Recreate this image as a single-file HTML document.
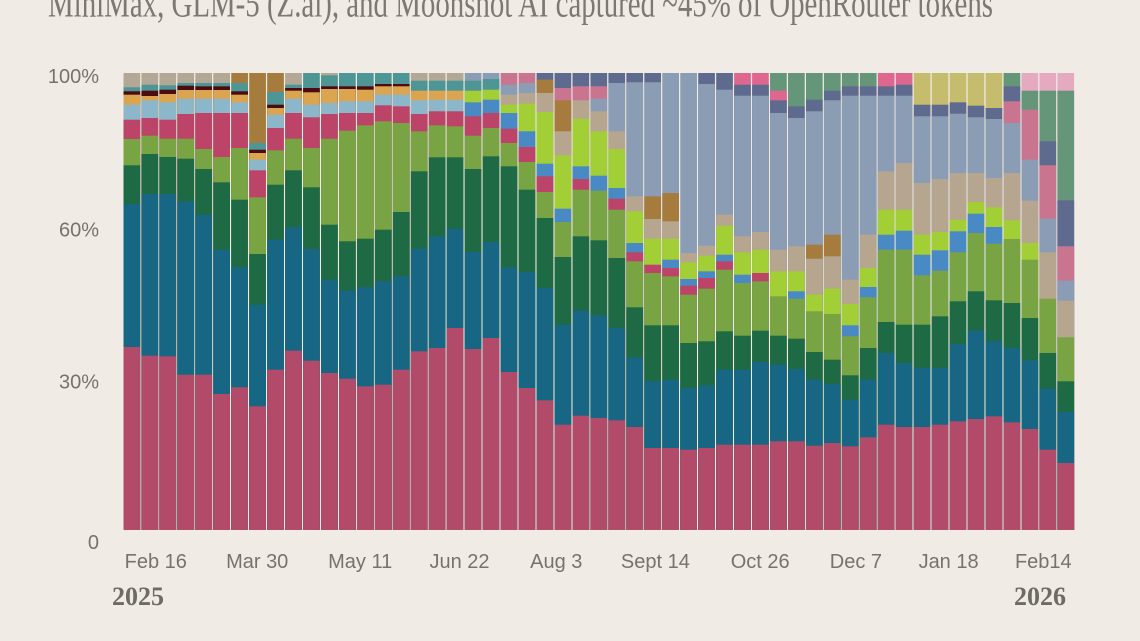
<!DOCTYPE html>
<html><head><meta charset="utf-8"><style>
html,body{margin:0;padding:0;background:#F0ECE5;}
svg{display:block;}
.A{fill:#B24A69}.B{fill:#176683}.C{fill:#1E6A45}.D{fill:#78A443}.E{fill:#BB4468}
.F{fill:#8CB6C9}.G{fill:#DBA54F}.H{fill:#4B0B10}.I{fill:#4E9596}.J{fill:#B3A796}
.K{fill:#A57C3E}.L{fill:#A2CF36}.M{fill:#4A8AC4}.N{fill:#8B9DB5}.O{fill:#5F6B8E}
.P{fill:#B6A58F}.Q{fill:#C6BC6D}.R{fill:#66967A}.S{fill:#DE6790}.T{fill:#C97590}.U{fill:#E5A9C0}
.ax{font-family:"Liberation Sans",Arial,sans-serif;font-size:20px;fill:#77726C;}
.yr{font-family:"Liberation Serif",serif;font-size:26px;font-weight:bold;fill:#6E6A65;}
</style></head><body>
<svg width="1140" height="641" viewBox="0 0 1140 641" xmlns="http://www.w3.org/2000/svg">
<rect width="1140" height="641" fill="#F0ECE5"/>
<text x="48" y="16.5" font-family="Liberation Serif, serif" font-size="40" fill="#7D7872" textLength="945" lengthAdjust="spacingAndGlyphs">MiniMax, GLM-5 (Z.ai), and Moonshot AI captured ~45% of OpenRouter tokens</text>

<text class="ax" x="99" y="83" text-anchor="end">100%</text>
<text class="ax" x="99" y="236.7" text-anchor="end">60%</text>
<text class="ax" x="99" y="388.5" text-anchor="end">30%</text>
<text class="ax" x="99" y="549" text-anchor="end">0</text>

<g transform="translate(123.5,0)"><rect width="16.7" class="J" y="73" height="457"/><rect width="16.7" class="I" y="87.3" height="442.7"/><rect width="16.7" class="H" y="91.3" height="438.7"/><rect width="16.7" class="G" y="94.7" height="435.3"/><rect width="16.7" class="F" y="104.7" height="425.3"/><rect width="16.7" class="E" y="119.7" height="410.3"/><rect width="16.7" class="D" y="139" height="391"/><rect width="16.7" class="C" y="165.3" height="364.7"/><rect width="16.7" class="B" y="204" height="326"/><rect width="16.7" class="A" y="347" height="183"/></g>
<g transform="translate(141.46,0)"><rect width="16.7" class="J" y="73" height="457"/><rect width="16.7" class="I" y="84.7" height="445.3"/><rect width="16.7" class="H" y="90.7" height="439.3"/><rect width="16.7" class="G" y="96" height="434"/><rect width="16.7" class="F" y="100.3" height="429.7"/><rect width="16.7" class="E" y="118" height="412"/><rect width="16.7" class="D" y="135.7" height="394.3"/><rect width="16.7" class="C" y="154" height="376"/><rect width="16.7" class="B" y="194" height="336"/><rect width="16.7" class="A" y="355.7" height="174.3"/></g>
<g transform="translate(159.42,0)"><rect width="16.7" class="J" y="73" height="457"/><rect width="16.7" class="I" y="85.3" height="444.7"/><rect width="16.7" class="H" y="89.7" height="440.3"/><rect width="16.7" class="G" y="94" height="436"/><rect width="16.7" class="F" y="102.3" height="427.7"/><rect width="16.7" class="E" y="119.7" height="410.3"/><rect width="16.7" class="D" y="138.7" height="391.3"/><rect width="16.7" class="C" y="157" height="373"/><rect width="16.7" class="B" y="194" height="336"/><rect width="16.7" class="A" y="356.3" height="173.7"/></g>
<g transform="translate(177.38,0)"><rect width="16.7" class="J" y="73" height="457"/><rect width="16.7" class="I" y="83" height="447"/><rect width="16.7" class="H" y="85.7" height="444.3"/><rect width="16.7" class="G" y="90" height="440"/><rect width="16.7" class="F" y="98.7" height="431.3"/><rect width="16.7" class="E" y="114" height="416"/><rect width="16.7" class="D" y="138.7" height="391.3"/><rect width="16.7" class="C" y="158.7" height="371.3"/><rect width="16.7" class="B" y="201.3" height="328.7"/><rect width="16.7" class="A" y="374.7" height="155.3"/></g>
<g transform="translate(195.34,0)"><rect width="16.7" class="J" y="73" height="457"/><rect width="16.7" class="I" y="83" height="447"/><rect width="16.7" class="H" y="86.3" height="443.7"/><rect width="16.7" class="G" y="90" height="440"/><rect width="16.7" class="F" y="98.7" height="431.3"/><rect width="16.7" class="E" y="113" height="417"/><rect width="16.7" class="D" y="149" height="381"/><rect width="16.7" class="C" y="169" height="361"/><rect width="16.7" class="B" y="214.7" height="315.3"/><rect width="16.7" class="A" y="374.7" height="155.3"/></g>
<g transform="translate(213.3,0)"><rect width="16.7" class="J" y="73" height="457"/><rect width="16.7" class="I" y="83" height="447"/><rect width="16.7" class="H" y="86.3" height="443.7"/><rect width="16.7" class="G" y="90" height="440"/><rect width="16.7" class="F" y="98.7" height="431.3"/><rect width="16.7" class="E" y="113" height="417"/><rect width="16.7" class="D" y="157" height="373"/><rect width="16.7" class="C" y="182.3" height="347.7"/><rect width="16.7" class="B" y="249.7" height="280.3"/><rect width="16.7" class="A" y="394" height="136"/></g>
<g transform="translate(231.26,0)"><rect width="16.7" class="K" y="73" height="457"/><rect width="16.7" class="I" y="83" height="447"/><rect width="16.7" class="H" y="91.3" height="438.7"/><rect width="16.7" class="G" y="94.7" height="435.3"/><rect width="16.7" class="F" y="102.3" height="427.7"/><rect width="16.7" class="E" y="113" height="417"/><rect width="16.7" class="D" y="148" height="382"/><rect width="16.7" class="C" y="199.7" height="330.3"/><rect width="16.7" class="B" y="267.3" height="262.7"/><rect width="16.7" class="A" y="387.3" height="142.7"/></g>
<g transform="translate(249.22,0)"><rect width="16.7" class="K" y="73" height="457"/><rect width="16.7" class="I" y="143" height="387"/><rect width="16.7" class="H" y="149.7" height="380.3"/><rect width="16.7" class="G" y="153" height="377"/><rect width="16.7" class="F" y="159.7" height="370.3"/><rect width="16.7" class="E" y="170.3" height="359.7"/><rect width="16.7" class="D" y="197.3" height="332.7"/><rect width="16.7" class="C" y="254" height="276"/><rect width="16.7" class="B" y="304.7" height="225.3"/><rect width="16.7" class="A" y="406.3" height="123.7"/></g>
<g transform="translate(267.18,0)"><rect width="16.7" class="K" y="73" height="457"/><rect width="16.7" class="I" y="92" height="438"/><rect width="16.7" class="H" y="104.7" height="425.3"/><rect width="16.7" class="G" y="108" height="422"/><rect width="16.7" class="F" y="114.7" height="415.3"/><rect width="16.7" class="E" y="128" height="402"/><rect width="16.7" class="D" y="150.3" height="379.7"/><rect width="16.7" class="C" y="184.7" height="345.3"/><rect width="16.7" class="B" y="239.7" height="290.3"/><rect width="16.7" class="A" y="369.7" height="160.3"/></g>
<g transform="translate(285.14,0)"><rect width="16.7" class="J" y="73" height="457"/><rect width="16.7" class="I" y="84.7" height="445.3"/><rect width="16.7" class="H" y="88" height="442"/><rect width="16.7" class="G" y="90.7" height="439.3"/><rect width="16.7" class="F" y="98.7" height="431.3"/><rect width="16.7" class="E" y="113" height="417"/><rect width="16.7" class="D" y="138.7" height="391.3"/><rect width="16.7" class="C" y="170.3" height="359.7"/><rect width="16.7" class="B" y="227.3" height="302.7"/><rect width="16.7" class="A" y="350.7" height="179.3"/></g>
<g transform="translate(303.1,0)"><rect width="16.7" class="I" y="73" height="457"/><rect width="16.7" class="H" y="88" height="442"/><rect width="16.7" class="G" y="92.3" height="437.7"/><rect width="16.7" class="F" y="104.7" height="425.3"/><rect width="16.7" class="E" y="117.3" height="412.7"/><rect width="16.7" class="D" y="148" height="382"/><rect width="16.7" class="C" y="187.3" height="342.7"/><rect width="16.7" class="B" y="249" height="281"/><rect width="16.7" class="A" y="360.7" height="169.3"/></g>
<g transform="translate(321.06,0)"><rect width="16.7" class="J" y="73" height="457"/><rect width="16.7" class="I" y="75.3" height="454.7"/><rect width="16.7" class="H" y="86.3" height="443.7"/><rect width="16.7" class="G" y="89" height="441"/><rect width="16.7" class="F" y="103" height="427"/><rect width="16.7" class="E" y="114" height="416"/><rect width="16.7" class="D" y="138.7" height="391.3"/><rect width="16.7" class="C" y="224.7" height="305.3"/><rect width="16.7" class="B" y="279.7" height="250.3"/><rect width="16.7" class="A" y="373" height="157"/></g>
<g transform="translate(339.02,0)"><rect width="16.7" class="I" y="73" height="457"/><rect width="16.7" class="H" y="86.3" height="443.7"/><rect width="16.7" class="G" y="89" height="441"/><rect width="16.7" class="F" y="101.3" height="428.7"/><rect width="16.7" class="E" y="113" height="417"/><rect width="16.7" class="D" y="130.7" height="399.3"/><rect width="16.7" class="C" y="241.3" height="288.7"/><rect width="16.7" class="B" y="290.7" height="239.3"/><rect width="16.7" class="A" y="378.7" height="151.3"/></g>
<g transform="translate(356.98,0)"><rect width="16.7" class="I" y="73" height="457"/><rect width="16.7" class="H" y="86.3" height="443.7"/><rect width="16.7" class="G" y="89.7" height="440.3"/><rect width="16.7" class="F" y="101.3" height="428.7"/><rect width="16.7" class="E" y="113" height="417"/><rect width="16.7" class="D" y="125.3" height="404.7"/><rect width="16.7" class="C" y="238.7" height="291.3"/><rect width="16.7" class="B" y="287.3" height="242.7"/><rect width="16.7" class="A" y="386.3" height="143.7"/></g>
<g transform="translate(374.94,0)"><rect width="16.7" class="I" y="73" height="457"/><rect width="16.7" class="H" y="84" height="446"/><rect width="16.7" class="G" y="86.3" height="443.7"/><rect width="16.7" class="F" y="94.7" height="435.3"/><rect width="16.7" class="E" y="105.3" height="424.7"/><rect width="16.7" class="D" y="121.3" height="408.7"/><rect width="16.7" class="C" y="229.7" height="300.3"/><rect width="16.7" class="B" y="281.3" height="248.7"/><rect width="16.7" class="A" y="384.7" height="145.3"/></g>
<g transform="translate(392.9,0)"><rect width="16.7" class="I" y="73" height="457"/><rect width="16.7" class="H" y="84" height="446"/><rect width="16.7" class="G" y="86.3" height="443.7"/><rect width="16.7" class="F" y="94.7" height="435.3"/><rect width="16.7" class="E" y="106.3" height="423.7"/><rect width="16.7" class="D" y="123" height="407"/><rect width="16.7" class="C" y="212" height="318"/><rect width="16.7" class="B" y="276.3" height="253.7"/><rect width="16.7" class="A" y="369.7" height="160.3"/></g>
<g transform="translate(410.86,0)"><rect width="16.7" class="J" y="73" height="457"/><rect width="16.7" class="I" y="80.7" height="449.3"/><rect width="16.7" class="G" y="90.7" height="439.3"/><rect width="16.7" class="F" y="100.3" height="429.7"/><rect width="16.7" class="E" y="114" height="416"/><rect width="16.7" class="D" y="131.3" height="398.7"/><rect width="16.7" class="C" y="171.3" height="358.7"/><rect width="16.7" class="B" y="248.7" height="281.3"/><rect width="16.7" class="A" y="351.3" height="178.7"/></g>
<g transform="translate(428.82,0)"><rect width="16.7" class="J" y="73" height="457"/><rect width="16.7" class="I" y="80.7" height="449.3"/><rect width="16.7" class="G" y="90.7" height="439.3"/><rect width="16.7" class="F" y="99.7" height="430.3"/><rect width="16.7" class="E" y="111.3" height="418.7"/><rect width="16.7" class="D" y="125.3" height="404.7"/><rect width="16.7" class="C" y="157.3" height="372.7"/><rect width="16.7" class="B" y="236.3" height="293.7"/><rect width="16.7" class="A" y="348" height="182"/></g>
<g transform="translate(446.78,0)"><rect width="16.7" class="J" y="73" height="457"/><rect width="16.7" class="I" y="80.7" height="449.3"/><rect width="16.7" class="G" y="90.7" height="439.3"/><rect width="16.7" class="F" y="99.7" height="430.3"/><rect width="16.7" class="E" y="111.3" height="418.7"/><rect width="16.7" class="D" y="126.3" height="403.7"/><rect width="16.7" class="C" y="157.3" height="372.7"/><rect width="16.7" class="B" y="228.7" height="301.3"/><rect width="16.7" class="A" y="328" height="202"/></g>
<g transform="translate(464.74,0)"><rect width="16.7" class="N" y="73" height="457"/><rect width="16.7" class="I" y="80.7" height="449.3"/><rect width="16.7" class="L" y="90.7" height="439.3"/><rect width="16.7" class="M" y="102.3" height="427.7"/><rect width="16.7" class="E" y="116.3" height="413.7"/><rect width="16.7" class="D" y="135.7" height="394.3"/><rect width="16.7" class="C" y="169" height="361"/><rect width="16.7" class="B" y="252" height="278"/><rect width="16.7" class="A" y="349" height="181"/></g>
<g transform="translate(482.7,0)"><rect width="16.7" class="N" y="73" height="457"/><rect width="16.7" class="I" y="79" height="451"/><rect width="16.7" class="L" y="89.7" height="440.3"/><rect width="16.7" class="M" y="99.7" height="430.3"/><rect width="16.7" class="E" y="113" height="417"/><rect width="16.7" class="D" y="128" height="402"/><rect width="16.7" class="C" y="156.3" height="373.7"/><rect width="16.7" class="B" y="242" height="288"/><rect width="16.7" class="A" y="338" height="192"/></g>
<g transform="translate(500.66,0)"><rect width="16.7" class="T" y="73" height="457"/><rect width="16.7" class="N" y="84.7" height="445.3"/><rect width="16.7" class="P" y="94.7" height="435.3"/><rect width="16.7" class="L" y="104.7" height="425.3"/><rect width="16.7" class="M" y="113" height="417"/><rect width="16.7" class="E" y="128.7" height="401.3"/><rect width="16.7" class="D" y="143" height="387"/><rect width="16.7" class="C" y="166.3" height="363.7"/><rect width="16.7" class="B" y="267.3" height="262.7"/><rect width="16.7" class="A" y="372" height="158"/></g>
<g transform="translate(518.62,0)"><rect width="16.7" class="T" y="73" height="457"/><rect width="16.7" class="N" y="83" height="447"/><rect width="16.7" class="P" y="93" height="437"/><rect width="16.7" class="L" y="103.7" height="426.3"/><rect width="16.7" class="M" y="131.3" height="398.7"/><rect width="16.7" class="E" y="147" height="383"/><rect width="16.7" class="D" y="162" height="368"/><rect width="16.7" class="C" y="189.7" height="340.3"/><rect width="16.7" class="B" y="272" height="258"/><rect width="16.7" class="A" y="388" height="142"/></g>
<g transform="translate(536.58,0)"><rect width="16.7" class="O" y="73" height="457"/><rect width="16.7" class="K" y="79.7" height="450.3"/><rect width="16.7" class="P" y="93" height="437"/><rect width="16.7" class="L" y="112" height="418"/><rect width="16.7" class="M" y="163.7" height="366.3"/><rect width="16.7" class="E" y="176.3" height="353.7"/><rect width="16.7" class="D" y="192" height="338"/><rect width="16.7" class="C" y="218" height="312"/><rect width="16.7" class="B" y="288" height="242"/><rect width="16.7" class="A" y="400.3" height="129.7"/></g>
<g transform="translate(554.54,0)"><rect width="16.7" class="O" y="73" height="457"/><rect width="16.7" class="T" y="88" height="442"/><rect width="16.7" class="K" y="100.3" height="429.7"/><rect width="16.7" class="P" y="131.3" height="398.7"/><rect width="16.7" class="L" y="155.3" height="374.7"/><rect width="16.7" class="M" y="208.7" height="321.3"/><rect width="16.7" class="D" y="222" height="308"/><rect width="16.7" class="C" y="257" height="273"/><rect width="16.7" class="B" y="324.7" height="205.3"/><rect width="16.7" class="A" y="424.7" height="105.3"/></g>
<g transform="translate(572.5,0)"><rect width="16.7" class="O" y="73" height="457"/><rect width="16.7" class="T" y="86.3" height="443.7"/><rect width="16.7" class="P" y="100.3" height="429.7"/><rect width="16.7" class="L" y="118.7" height="411.3"/><rect width="16.7" class="M" y="166.3" height="363.7"/><rect width="16.7" class="E" y="179" height="351"/><rect width="16.7" class="D" y="189.7" height="340.3"/><rect width="16.7" class="C" y="236.3" height="293.7"/><rect width="16.7" class="B" y="310.7" height="219.3"/><rect width="16.7" class="A" y="415.7" height="114.3"/></g>
<g transform="translate(590.46,0)"><rect width="16.7" class="O" y="73" height="457"/><rect width="16.7" class="T" y="86.3" height="443.7"/><rect width="16.7" class="N" y="98.7" height="431.3"/><rect width="16.7" class="P" y="111.3" height="418.7"/><rect width="16.7" class="L" y="131.3" height="398.7"/><rect width="16.7" class="M" y="175.7" height="354.3"/><rect width="16.7" class="D" y="190.7" height="339.3"/><rect width="16.7" class="C" y="240.3" height="289.7"/><rect width="16.7" class="B" y="315.3" height="214.7"/><rect width="16.7" class="A" y="418" height="112"/></g>
<g transform="translate(608.42,0)"><rect width="16.7" class="O" y="73" height="457"/><rect width="16.7" class="N" y="83" height="447"/><rect width="16.7" class="P" y="131.3" height="398.7"/><rect width="16.7" class="L" y="149" height="381"/><rect width="16.7" class="M" y="188" height="342"/><rect width="16.7" class="E" y="198.7" height="331.3"/><rect width="16.7" class="D" y="209.7" height="320.3"/><rect width="16.7" class="C" y="258" height="272"/><rect width="16.7" class="B" y="328" height="202"/><rect width="16.7" class="A" y="420.3" height="109.7"/></g>
<g transform="translate(626.38,0)"><rect width="16.7" class="O" y="73" height="457"/><rect width="16.7" class="N" y="82.3" height="447.7"/><rect width="16.7" class="P" y="196.3" height="333.7"/><rect width="16.7" class="L" y="211.3" height="318.7"/><rect width="16.7" class="M" y="243" height="287"/><rect width="16.7" class="E" y="252.3" height="277.7"/><rect width="16.7" class="D" y="261.3" height="268.7"/><rect width="16.7" class="C" y="307.3" height="222.7"/><rect width="16.7" class="B" y="357.3" height="172.7"/><rect width="16.7" class="A" y="427" height="103"/></g>
<g transform="translate(644.34,0)"><rect width="16.7" class="O" y="73" height="457"/><rect width="16.7" class="N" y="82.3" height="447.7"/><rect width="16.7" class="K" y="196.3" height="333.7"/><rect width="16.7" class="P" y="219" height="311"/><rect width="16.7" class="L" y="238.7" height="291.3"/><rect width="16.7" class="E" y="264.7" height="265.3"/><rect width="16.7" class="D" y="273" height="257"/><rect width="16.7" class="C" y="325.3" height="204.7"/><rect width="16.7" class="B" y="381.3" height="148.7"/><rect width="16.7" class="A" y="448" height="82"/></g>
<g transform="translate(662.3,0)"><rect width="16.7" class="N" y="73" height="457"/><rect width="16.7" class="K" y="193" height="337"/><rect width="16.7" class="P" y="221.3" height="308.7"/><rect width="16.7" class="L" y="238.7" height="291.3"/><rect width="16.7" class="M" y="259.7" height="270.3"/><rect width="16.7" class="E" y="268" height="262"/><rect width="16.7" class="D" y="276.3" height="253.7"/><rect width="16.7" class="C" y="325.3" height="204.7"/><rect width="16.7" class="B" y="379.7" height="150.3"/><rect width="16.7" class="A" y="448" height="82"/></g>
<g transform="translate(680.26,0)"><rect width="16.7" class="N" y="73" height="457"/><rect width="16.7" class="P" y="253" height="277"/><rect width="16.7" class="L" y="262.3" height="267.7"/><rect width="16.7" class="M" y="279" height="251"/><rect width="16.7" class="E" y="285.7" height="244.3"/><rect width="16.7" class="D" y="294.7" height="235.3"/><rect width="16.7" class="C" y="343" height="187"/><rect width="16.7" class="B" y="388" height="142"/><rect width="16.7" class="A" y="449.7" height="80.3"/></g>
<g transform="translate(698.22,0)"><rect width="16.7" class="O" y="73" height="457"/><rect width="16.7" class="N" y="84" height="446"/><rect width="16.7" class="P" y="245.7" height="284.3"/><rect width="16.7" class="L" y="255.7" height="274.3"/><rect width="16.7" class="M" y="271.3" height="258.7"/><rect width="16.7" class="E" y="278" height="252"/><rect width="16.7" class="D" y="288.7" height="241.3"/><rect width="16.7" class="C" y="341.3" height="188.7"/><rect width="16.7" class="B" y="385.3" height="144.7"/><rect width="16.7" class="A" y="448" height="82"/></g>
<g transform="translate(716.18,0)"><rect width="16.7" class="O" y="73" height="457"/><rect width="16.7" class="N" y="89.7" height="440.3"/><rect width="16.7" class="P" y="214.7" height="315.3"/><rect width="16.7" class="L" y="225.7" height="304.3"/><rect width="16.7" class="M" y="254.7" height="275.3"/><rect width="16.7" class="E" y="261.3" height="268.7"/><rect width="16.7" class="D" y="269.7" height="260.3"/><rect width="16.7" class="C" y="331.3" height="198.7"/><rect width="16.7" class="B" y="369.7" height="160.3"/><rect width="16.7" class="A" y="444.7" height="85.3"/></g>
<g transform="translate(734.14,0)"><rect width="16.7" class="S" y="73" height="457"/><rect width="16.7" class="O" y="84.7" height="445.3"/><rect width="16.7" class="N" y="95.7" height="434.3"/><rect width="16.7" class="P" y="236.3" height="293.7"/><rect width="16.7" class="L" y="252.3" height="277.7"/><rect width="16.7" class="M" y="274.7" height="255.3"/><rect width="16.7" class="D" y="283" height="247"/><rect width="16.7" class="C" y="335.7" height="194.3"/><rect width="16.7" class="B" y="369.7" height="160.3"/><rect width="16.7" class="A" y="444.7" height="85.3"/></g>
<g transform="translate(752.1,0)"><rect width="16.7" class="S" y="73" height="457"/><rect width="16.7" class="O" y="84.7" height="445.3"/><rect width="16.7" class="N" y="95.7" height="434.3"/><rect width="16.7" class="P" y="232" height="298"/><rect width="16.7" class="L" y="249.7" height="280.3"/><rect width="16.7" class="E" y="273" height="257"/><rect width="16.7" class="D" y="281.3" height="248.7"/><rect width="16.7" class="C" y="330.7" height="199.3"/><rect width="16.7" class="B" y="362" height="168"/><rect width="16.7" class="A" y="444.7" height="85.3"/></g>
<g transform="translate(770.06,0)"><rect width="16.7" class="R" y="73" height="457"/><rect width="16.7" class="S" y="90.7" height="439.3"/><rect width="16.7" class="O" y="100.3" height="429.7"/><rect width="16.7" class="N" y="113" height="417"/><rect width="16.7" class="P" y="249.7" height="280.3"/><rect width="16.7" class="L" y="271.3" height="258.7"/><rect width="16.7" class="D" y="296.3" height="233.7"/><rect width="16.7" class="C" y="335.7" height="194.3"/><rect width="16.7" class="B" y="364.7" height="165.3"/><rect width="16.7" class="A" y="441.3" height="88.7"/></g>
<g transform="translate(788.02,0)"><rect width="16.7" class="R" y="73" height="457"/><rect width="16.7" class="O" y="106.3" height="423.7"/><rect width="16.7" class="N" y="118" height="412"/><rect width="16.7" class="P" y="246.3" height="283.7"/><rect width="16.7" class="L" y="271.3" height="258.7"/><rect width="16.7" class="M" y="291.3" height="238.7"/><rect width="16.7" class="D" y="298.7" height="231.3"/><rect width="16.7" class="C" y="338.7" height="191.3"/><rect width="16.7" class="B" y="369" height="161"/><rect width="16.7" class="A" y="441.3" height="88.7"/></g>
<g transform="translate(805.98,0)"><rect width="16.7" class="R" y="73" height="457"/><rect width="16.7" class="O" y="99.7" height="430.3"/><rect width="16.7" class="N" y="111.3" height="418.7"/><rect width="16.7" class="K" y="244.7" height="285.3"/><rect width="16.7" class="P" y="258.7" height="271.3"/><rect width="16.7" class="L" y="294.7" height="235.3"/><rect width="16.7" class="D" y="311.3" height="218.7"/><rect width="16.7" class="C" y="352" height="178"/><rect width="16.7" class="B" y="379.7" height="150.3"/><rect width="16.7" class="A" y="445.7" height="84.3"/></g>
<g transform="translate(823.94,0)"><rect width="16.7" class="R" y="73" height="457"/><rect width="16.7" class="O" y="90.7" height="439.3"/><rect width="16.7" class="N" y="100.3" height="429.7"/><rect width="16.7" class="K" y="234.7" height="295.3"/><rect width="16.7" class="P" y="256.3" height="273.7"/><rect width="16.7" class="L" y="288.7" height="241.3"/><rect width="16.7" class="D" y="314" height="216"/><rect width="16.7" class="C" y="359.7" height="170.3"/><rect width="16.7" class="B" y="384" height="146"/><rect width="16.7" class="A" y="443" height="87"/></g>
<g transform="translate(841.9,0)"><rect width="16.7" class="R" y="73" height="457"/><rect width="16.7" class="O" y="86.3" height="443.7"/><rect width="16.7" class="N" y="95.7" height="434.3"/><rect width="16.7" class="P" y="279.7" height="250.3"/><rect width="16.7" class="L" y="304" height="226"/><rect width="16.7" class="M" y="325.3" height="204.7"/><rect width="16.7" class="D" y="336.3" height="193.7"/><rect width="16.7" class="C" y="375.3" height="154.7"/><rect width="16.7" class="B" y="399.7" height="130.3"/><rect width="16.7" class="A" y="446.3" height="83.7"/></g>
<g transform="translate(859.86,0)"><rect width="16.7" class="R" y="73" height="457"/><rect width="16.7" class="O" y="86.3" height="443.7"/><rect width="16.7" class="N" y="95.7" height="434.3"/><rect width="16.7" class="P" y="234.7" height="295.3"/><rect width="16.7" class="L" y="268" height="262"/><rect width="16.7" class="M" y="287" height="243"/><rect width="16.7" class="D" y="297.3" height="232.7"/><rect width="16.7" class="C" y="348" height="182"/><rect width="16.7" class="B" y="379.7" height="150.3"/><rect width="16.7" class="A" y="437.3" height="92.7"/></g>
<g transform="translate(877.82,0)"><rect width="16.7" class="S" y="73" height="457"/><rect width="16.7" class="O" y="86.3" height="443.7"/><rect width="16.7" class="N" y="95.7" height="434.3"/><rect width="16.7" class="P" y="171.3" height="358.7"/><rect width="16.7" class="L" y="209.7" height="320.3"/><rect width="16.7" class="M" y="234.7" height="295.3"/><rect width="16.7" class="D" y="249.7" height="280.3"/><rect width="16.7" class="C" y="322" height="208"/><rect width="16.7" class="B" y="353" height="177"/><rect width="16.7" class="A" y="424.7" height="105.3"/></g>
<g transform="translate(895.78,0)"><rect width="16.7" class="S" y="73" height="457"/><rect width="16.7" class="O" y="84.7" height="445.3"/><rect width="16.7" class="N" y="95.7" height="434.3"/><rect width="16.7" class="P" y="163" height="367"/><rect width="16.7" class="L" y="209.7" height="320.3"/><rect width="16.7" class="M" y="230.7" height="299.3"/><rect width="16.7" class="D" y="249.7" height="280.3"/><rect width="16.7" class="C" y="324.7" height="205.3"/><rect width="16.7" class="B" y="363" height="167"/><rect width="16.7" class="A" y="427" height="103"/></g>
<g transform="translate(913.74,0)"><rect width="16.7" class="Q" y="73" height="457"/><rect width="16.7" class="O" y="104.7" height="425.3"/><rect width="16.7" class="N" y="116.3" height="413.7"/><rect width="16.7" class="P" y="183" height="347"/><rect width="16.7" class="L" y="234.7" height="295.3"/><rect width="16.7" class="M" y="254.7" height="275.3"/><rect width="16.7" class="D" y="275.3" height="254.7"/><rect width="16.7" class="C" y="324.7" height="205.3"/><rect width="16.7" class="B" y="368" height="162"/><rect width="16.7" class="A" y="427" height="103"/></g>
<g transform="translate(931.7,0)"><rect width="16.7" class="Q" y="73" height="457"/><rect width="16.7" class="O" y="104.7" height="425.3"/><rect width="16.7" class="N" y="116.3" height="413.7"/><rect width="16.7" class="P" y="179" height="351"/><rect width="16.7" class="L" y="232" height="298"/><rect width="16.7" class="M" y="250.3" height="279.7"/><rect width="16.7" class="D" y="270.7" height="259.3"/><rect width="16.7" class="C" y="316.3" height="213.7"/><rect width="16.7" class="B" y="368" height="162"/><rect width="16.7" class="A" y="424.7" height="105.3"/></g>
<g transform="translate(949.66,0)"><rect width="16.7" class="Q" y="73" height="457"/><rect width="16.7" class="O" y="102.3" height="427.7"/><rect width="16.7" class="N" y="113.7" height="416.3"/><rect width="16.7" class="P" y="173" height="357"/><rect width="16.7" class="L" y="219.7" height="310.3"/><rect width="16.7" class="M" y="231.3" height="298.7"/><rect width="16.7" class="D" y="252.3" height="277.7"/><rect width="16.7" class="C" y="301.3" height="228.7"/><rect width="16.7" class="B" y="344" height="186"/><rect width="16.7" class="A" y="421.3" height="108.7"/></g>
<g transform="translate(967.62,0)"><rect width="16.7" class="Q" y="73" height="457"/><rect width="16.7" class="O" y="105.7" height="424.3"/><rect width="16.7" class="N" y="117.3" height="412.7"/><rect width="16.7" class="P" y="173" height="357"/><rect width="16.7" class="L" y="202" height="328"/><rect width="16.7" class="M" y="213.7" height="316.3"/><rect width="16.7" class="D" y="233" height="297"/><rect width="16.7" class="C" y="291.3" height="238.7"/><rect width="16.7" class="B" y="330.3" height="199.7"/><rect width="16.7" class="A" y="419" height="111"/></g>
<g transform="translate(985.58,0)"><rect width="16.7" class="Q" y="73" height="457"/><rect width="16.7" class="O" y="108" height="422"/><rect width="16.7" class="N" y="119" height="411"/><rect width="16.7" class="P" y="178" height="352"/><rect width="16.7" class="L" y="207.3" height="322.7"/><rect width="16.7" class="M" y="227" height="303"/><rect width="16.7" class="D" y="243.7" height="286.3"/><rect width="16.7" class="C" y="300.3" height="229.7"/><rect width="16.7" class="B" y="341.3" height="188.7"/><rect width="16.7" class="A" y="416.3" height="113.7"/></g>
<g transform="translate(1003.54,0)"><rect width="16.7" class="R" y="73" height="457"/><rect width="16.7" class="O" y="86.3" height="443.7"/><rect width="16.7" class="T" y="101.3" height="428.7"/><rect width="16.7" class="N" y="123" height="407"/><rect width="16.7" class="P" y="173" height="357"/><rect width="16.7" class="L" y="220.3" height="309.7"/><rect width="16.7" class="D" y="239" height="291"/><rect width="16.7" class="C" y="303" height="227"/><rect width="16.7" class="B" y="348" height="182"/><rect width="16.7" class="A" y="422.3" height="107.7"/></g>
<g transform="translate(1021.5,0)"><rect width="16.7" class="U" y="73" height="457"/><rect width="16.7" class="R" y="90.7" height="439.3"/><rect width="16.7" class="T" y="109.7" height="420.3"/><rect width="16.7" class="N" y="159.7" height="370.3"/><rect width="16.7" class="P" y="200.7" height="329.3"/><rect width="16.7" class="L" y="243" height="287"/><rect width="16.7" class="D" y="259.7" height="270.3"/><rect width="16.7" class="C" y="318" height="212"/><rect width="16.7" class="B" y="360.3" height="169.7"/><rect width="16.7" class="A" y="429" height="101"/></g>
<g transform="translate(1039.46,0)"><rect width="16.7" class="U" y="73" height="457"/><rect width="16.7" class="R" y="90.7" height="439.3"/><rect width="16.7" class="O" y="141.3" height="388.7"/><rect width="16.7" class="T" y="165.3" height="364.7"/><rect width="16.7" class="N" y="218.7" height="311.3"/><rect width="16.7" class="P" y="252.3" height="277.7"/><rect width="16.7" class="D" y="298.7" height="231.3"/><rect width="16.7" class="C" y="353" height="177"/><rect width="16.7" class="B" y="388.7" height="141.3"/><rect width="16.7" class="A" y="449.7" height="80.3"/></g>
<g transform="translate(1057.42,0)"><rect width="16.7" class="U" y="73" height="457"/><rect width="16.7" class="R" y="90.7" height="439.3"/><rect width="16.7" class="O" y="200.3" height="329.7"/><rect width="16.7" class="T" y="246.3" height="283.7"/><rect width="16.7" class="N" y="280.7" height="249.3"/><rect width="16.7" class="P" y="300.7" height="229.3"/><rect width="16.7" class="D" y="337.3" height="192.7"/><rect width="16.7" class="C" y="381.3" height="148.7"/><rect width="16.7" class="B" y="412" height="118"/><rect width="16.7" class="A" y="463" height="67"/></g>

<text class="ax" x="155.8" y="568" text-anchor="middle">Feb 16</text>
<text class="ax" x="257.2" y="568" text-anchor="middle">Mar 30</text>
<text class="ax" x="360.2" y="568" text-anchor="middle">May 11</text>
<text class="ax" x="459.5" y="568" text-anchor="middle">Jun 22</text>
<text class="ax" x="556.3" y="568" text-anchor="middle">Aug 3</text>
<text class="ax" x="655.4" y="568" text-anchor="middle">Sept 14</text>
<text class="ax" x="760.2" y="568" text-anchor="middle">Oct 26</text>
<text class="ax" x="855.9" y="568" text-anchor="middle">Dec 7</text>
<text class="ax" x="948.6" y="568" text-anchor="middle">Jan 18</text>
<text class="ax" x="1043.3" y="568" text-anchor="middle">Feb14</text>

<text class="yr" x="112" y="605">2025</text>
<text class="yr" x="1014" y="605">2026</text>
</svg>
</body></html>
